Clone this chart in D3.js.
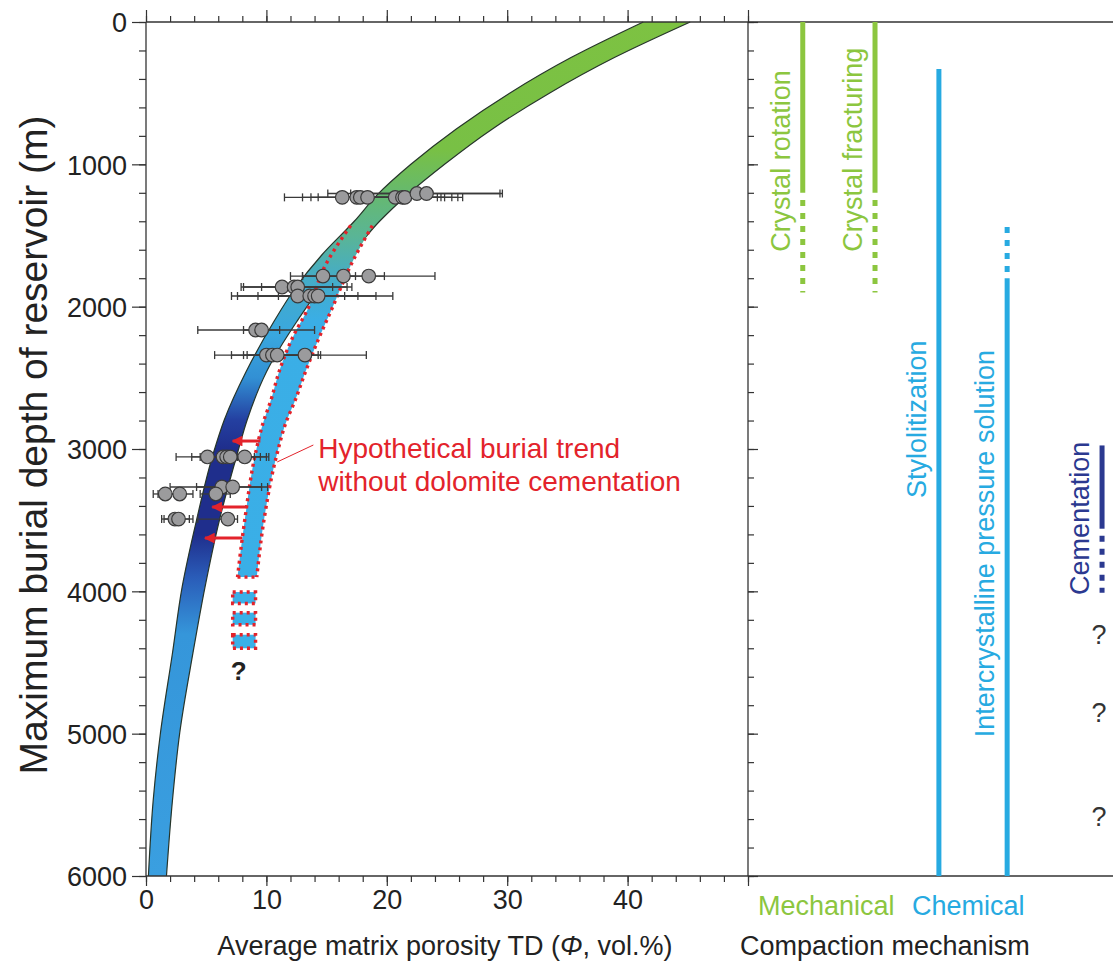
<!DOCTYPE html>
<html>
<head>
<meta charset="utf-8">
<script src="https://cdn.jsdelivr.net/npm/d3@7"></script>
<style>
body { margin: 0; background: #fff; }
svg { font-family: "Liberation Sans", Arial, Helvetica, sans-serif; }
</style>
</head>
<body>
<svg id="chart" width="1113" height="968"></svg>
<script>
// porosity-depth envelope (depth in m, porosity in vol.%)
const bandDepth = [0, 250, 500, 750, 1000, 1215, 1400, 1637, 1869, 2108, 2459, 2796, 3028, 3499, 3970, 4433, 4995, 5466, 6000];
const bandLow   = [41.3, 35.3, 30.2, 25.8, 22.0, 19.2, 17.3, 14.6, 12.4, 10.6, 8.3, 6.5, 5.6, 4.2, 3.0, 2.2, 1.2, 0.6, 0.2];
const bandHigh  = [45.2, 38.9, 33.5, 28.8, 24.8, 21.7, 19.4, 17.0, 14.5, 12.5, 10.0, 8.4, 7.6, 6.1, 4.9, 3.9, 2.8, 2.2, 1.7];

// hypothetical trend without dolomite cementation
const hypDepth = [1430, 1693, 2023, 2213, 2445, 2677, 2796, 3028, 3499, 3900];
const hypLow   = [17.0, 15.0, 13.4, 12.2, 11.1, 10.3, 9.8, 9.1, 8.2, 7.6];
const hypHigh  = [18.8, 17.1, 15.4, 14.4, 13.3, 12.3, 11.7, 10.9, 9.8, 9.2];
const hypBoxTop    = [4005, 4150, 4305];
const hypBoxBottom = [4085, 4235, 4400];
const hypBoxPhi    = [7.2, 9.1];

// arrows from hypothetical to observed trend
const arrowDepth = [2944, 3408, 3626];
const arrowFrom  = [9.5, 8.4, 8.0];
const arrowTo    = [7.2, 5.5, 4.9];

// measured samples
const ptDepth = [1232, 1232, 1232, 1232, 1232, 1232, 1232, 1205, 1205,
                 1785, 1785, 1785, 1862, 1862, 1862, 1925, 1925, 1925, 1925,
                 2164, 2164, 2340, 2340, 2340, 2340,
                 3056, 3056, 3056, 3056, 3056, 3267, 3267, 3316, 3316, 3316, 3492, 3492, 3492];
const ptPhi   = [16.3, 17.5, 17.8, 18.4, 20.7, 21.3, 21.5, 22.5, 23.3,
                 14.7, 16.4, 18.5, 11.3, 12.3, 12.6, 12.6, 13.6, 14.0, 14.3,
                 9.1, 9.6, 10.0, 10.5, 10.9, 13.2,
                 5.1, 6.4, 6.7, 7.0, 8.2, 6.3, 7.2, 1.6, 2.8, 5.8, 2.4, 2.7, 6.8];
const ptMin   = [11.5, 13.0, 13.7, 14.3, 16.0, 16.5, 17.6, 15.1, 17.0,
                 12.0, 13.0, 13.0, 7.9, 8.1, 9.6, 7.1, 7.6, 9.3, 11.0,
                 4.3, 8.1, 5.7, 7.1, 8.1, 8.4,
                 2.5, 3.8, 4.5, 5.0, 6.0, 2.0, 4.2, 0.6, 1.0, 4.5, 1.3, 1.5, 4.3];
const ptMax   = [22.0, 24.2, 24.8, 25.4, 25.9, 26.3, 24.5, 29.4, 29.6,
                 17.4, 19.8, 24.0, 16.7, 17.1, 15.5, 17.6, 19.1, 20.5, 16.5,
                 11.1, 14.0, 14.3, 14.5, 13.6, 18.3,
                 7.6, 9.0, 9.5, 10.2, 10.0, 10.1, 9.6, 3.0, 3.9, 7.0, 3.9, 3.6, 7.6];

// compaction mechanisms (right panel)
const mechNames    = ['Crystal rotation', 'Crystal fracturing', 'Stylolitization', 'Intercrystalline pressure solution', 'Cementation'];
const mechColor    = ['#8cc63f', '#8cc63f', '#27aae1', '#27aae1', '#2b3990'];
const mechSlot     = [1.5, 3.48, 5.23, 7.1, 9.7];
const mechSolid    = [[0, 1200], [0, 1200], [330, 6000], [1800, 6000], [2975, 3560]];
const mechDotted   = [[1250, 1900], [1250, 1900], null, [1440, 1790], [3610, 4010]];
const mechLabelAt  = [1615, 1615, 3345, 5025, 4025];
const unknownDepth = [4300, 4850, 5580];

const xTicks = [0, 10, 20, 30, 40, 50];
const yTicks = [0, 1000, 2000, 3000, 4000, 5000, 6000];

const FONT = '"Liberation Sans", Arial, Helvetica, sans-serif';
const svg = d3.select('#chart');

const x = d3.scaleLinear().domain([0, 50]).range([146, 748]);
const y = d3.scaleLinear().domain([0, 6000]).range([22, 876]);
const xr = d3.scaleLinear().domain([0, 10]).range([748, 1113]);

// gradients
const defs = svg.append('defs');
function gradient(id, stops) {
	let g = defs.append('linearGradient').attr('id', id)
		.attr('gradientUnits', 'userSpaceOnUse')
		.attr('x1', 0).attr('x2', 0)
		.attr('y1', y(0)).attr('y2', y(6000));
	stops.forEach((s) => {
		g.append('stop').attr('offset', s[0] / 6000).attr('stop-color', s[1]);
	});
}
gradient('bandGrad', [[0, '#7dc242'], [900, '#78c045'], [1200, '#66b96e'], [1500, '#5ab595'], [1800, '#45acc8'],
	[2200, '#39a7df'], [2500, '#3290d4'], [2800, '#243fa0'], [3000, '#1f2e8c'], [3600, '#1f2e8c'],
	[3900, '#2a5cb8'], [4300, '#3596da'], [6000, '#3a9fe0']]);
gradient('hypGrad', [[0, '#7dc242'], [1200, '#66b96e'], [1500, '#5ab595'], [1800, '#45acc8'], [2100, '#3aaee6'], [6000, '#3ab0e8']]);

defs.append('marker').attr('id', 'arrow')
	.attr('viewBox', '0 0 10 10').attr('refX', 9).attr('refY', 5)
	.attr('markerWidth', 3.8).attr('markerHeight', 3.6).attr('orient', 'auto')
	.attr('markerUnits', 'strokeWidth')
	.append('path').attr('d', 'M0,0L10,5L0,10Z').attr('fill', '#e3232b');

// observed band
const band = bandDepth.map((d, i) => ({depth: d, lo: bandLow[i], hi: bandHigh[i]}));
svg.append('path').datum(band)
	.attr('d', d3.area().y((d) => y(d.depth)).x0((d) => x(d.lo)).x1((d) => x(d.hi)).curve(d3.curveMonotoneY))
	.attr('fill', 'url(#bandGrad)');
['lo', 'hi'].forEach((k) => {
	svg.append('path').datum(band)
		.attr('d', d3.line().y((d) => y(d.depth)).x((d) => x(d[k])).curve(d3.curveMonotoneY))
		.attr('fill', 'none').attr('stroke', '#26352a').attr('stroke-width', 1.2);
});

// hypothetical band
const hyp = hypDepth.map((d, i) => ({depth: d, lo: hypLow[i], hi: hypHigh[i]}));
svg.append('path').datum(hyp)
	.attr('d', d3.area().y((d) => y(d.depth)).x0((d) => x(d.lo)).x1((d) => x(d.hi)).curve(d3.curveMonotoneY))
	.attr('fill', 'url(#hypGrad)');
const redDot = (sel) => sel.attr('fill', 'none').attr('stroke', '#e3232b')
	.attr('stroke-width', 3.4).attr('stroke-dasharray', '3,4');
['lo', 'hi'].forEach((k) => {
	svg.append('path').datum(hyp)
		.attr('d', d3.line().y((d) => y(d.depth)).x((d) => x(d[k])).curve(d3.curveMonotoneY))
		.call(redDot);
});
const last = hyp[hyp.length - 1];
svg.append('line')
	.attr('x1', x(last.lo)).attr('x2', x(last.hi))
	.attr('y1', y(last.depth)).attr('y2', y(last.depth))
	.call(redDot);
hypBoxTop.forEach((t, i) => {
	svg.append('rect')
		.attr('x', x(hypBoxPhi[0])).attr('width', x(hypBoxPhi[1]) - x(hypBoxPhi[0]))
		.attr('y', y(t)).attr('height', y(hypBoxBottom[i]) - y(t))
		.call(redDot).attr('fill', '#3ab0e8');
});

// arrows
arrowDepth.forEach((d, i) => {
	svg.append('line')
		.attr('x1', x(arrowFrom[i])).attr('x2', x(arrowTo[i]))
		.attr('y1', y(d)).attr('y2', y(d))
		.attr('stroke', '#e3232b').attr('stroke-width', 3)
		.attr('marker-end', 'url(#arrow)');
});

// samples
const pts = ptDepth.map((d, i) => ({depth: d, phi: ptPhi[i], min: ptMin[i], max: ptMax[i]}));
const gBars = svg.append('g').attr('stroke', '#3a3a3a').attr('stroke-width', 1.3);
pts.forEach((p) => {
	gBars.append('line').attr('x1', x(p.min)).attr('x2', x(p.max)).attr('y1', y(p.depth)).attr('y2', y(p.depth));
	[p.min, p.max].forEach((v) => {
		gBars.append('line').attr('x1', x(v)).attr('x2', x(v)).attr('y1', y(p.depth) - 4).attr('y2', y(p.depth) + 4);
	});
});
svg.append('g').selectAll('circle').data(pts).enter().append('circle')
	.attr('cx', (d) => x(d.phi)).attr('cy', (d) => y(d.depth)).attr('r', 6.8)
	.attr('fill', '#9b9b9d').attr('stroke', '#3a3a3a').attr('stroke-width', 1.2);

// annotation
svg.append('line')
	.attr('x1', x(13.9)).attr('y1', y(2972)).attr('x2', x(10.9)).attr('y2', y(3091))
	.attr('stroke', '#e3232b').attr('stroke-width', 1);
const anno = svg.append('text').attr('fill', '#e3232b').attr('font-size', 28);
anno.append('tspan').attr('x', x(14.3)).attr('y', y(3065)).text('Hypothetical burial trend');
anno.append('tspan').attr('x', x(14.3)).attr('y', y(3295)).text('without dolomite cementation');
svg.append('text').attr('x', x(7.7)).attr('y', y(4620)).attr('text-anchor', 'middle')
	.attr('font-size', 26).attr('font-weight', 'bold').attr('fill', '#222').text('?');

// axes
function axis(gen, tx, ty, values, size, labels) {
	let g = svg.append('g').attr('transform', 'translate(' + tx + ',' + ty + ')')
		.call(gen.tickValues(values).tickSize(size).tickPadding(labels ? 5 : 0)
			.tickFormat(labels || (() => '')));
	g.select('.domain').remove();
	g.attr('font-family', FONT).attr('font-size', 27);
	g.selectAll('line').attr('stroke', '#333').attr('stroke-width', 1.2);
	g.selectAll('text').attr('fill', '#222');
	return g;
}
const xMinor = d3.range(0, 50.1, 2);
const yMinor = d3.range(0, 6001, 200);
axis(d3.axisBottom(x), 0, y(6000), xTicks, 10, (d) => d < 50 ? d : '').selectAll('text').attr('dy', '0.68em');
axis(d3.axisBottom(x), 0, y(6000), xMinor, 6);
axis(d3.axisTop(x), 0, y(0), xTicks, 12);
axis(d3.axisTop(x), 0, y(0), xMinor, 6);
axis(d3.axisLeft(y), x(0), 0, yTicks, 14, (d) => d).selectAll('text').attr('dy', '0.36em');
axis(d3.axisLeft(y), x(0), 0, yMinor, 7);
axis(d3.axisRight(y), x(50), 0, yTicks, 10);
axis(d3.axisRight(y), x(50), 0, yMinor, 6);

// frame
const frame = svg.append('g').attr('stroke', '#333').attr('stroke-width', 1.3);
frame.append('line').attr('x1', x(0)).attr('x2', 1113).attr('y1', y(0)).attr('y2', y(0));
frame.append('line').attr('x1', x(0)).attr('x2', 1113).attr('y1', y(6000)).attr('y2', y(6000));
frame.append('line').attr('x1', x(0)).attr('x2', x(0)).attr('y1', y(0)).attr('y2', y(6000));
frame.append('line').attr('x1', x(50)).attr('x2', x(50)).attr('y1', y(0)).attr('y2', y(6000));

// compaction mechanisms
mechNames.forEach((name, i) => {
	let cx = xr(mechSlot[i]);
	svg.append('line').attr('x1', cx).attr('x2', cx)
		.attr('y1', y(mechSolid[i][0])).attr('y2', y(mechSolid[i][1]))
		.attr('stroke', mechColor[i]).attr('stroke-width', 5);
	if (mechDotted[i]) {
		svg.append('line').attr('x1', cx).attr('x2', cx)
			.attr('y1', y(mechDotted[i][0])).attr('y2', y(mechDotted[i][1]))
			.attr('stroke', mechColor[i]).attr('stroke-width', 5).attr('stroke-dasharray', '6,7');
	}
	svg.append('text')
		.attr('transform', 'translate(' + (cx - 13) + ',' + y(mechLabelAt[i]) + ') rotate(-90)')
		.attr('font-size', 27).attr('fill', mechColor[i]).text(name);
});
unknownDepth.forEach((d) => {
	svg.append('text').attr('x', xr(mechSlot[4]) - 3).attr('y', y(d) + 10)
		.attr('text-anchor', 'middle').attr('font-size', 27).attr('fill', '#333').text('?');
});

// titles
svg.append('text').attr('transform', 'translate(47,445) rotate(-90)')
	.attr('text-anchor', 'middle').attr('font-size', 39).attr('fill', '#222')
	.text('Maximum burial depth of reservoir (m)');
const xt = svg.append('text').attr('x', 445).attr('y', 955).attr('text-anchor', 'middle')
	.attr('font-size', 27).attr('fill', '#222');
xt.append('tspan').text('Average matrix porosity TD (');
xt.append('tspan').attr('font-style', 'italic').text('Φ');
xt.append('tspan').text(', vol.%)');
svg.append('text').attr('x', 758).attr('y', 915).attr('font-size', 27).attr('fill', '#8cc63f').text('Mechanical');
svg.append('text').attr('x', 912).attr('y', 915).attr('font-size', 27).attr('fill', '#27aae1').text('Chemical');
svg.append('text').attr('x', 740).attr('y', 955).attr('font-size', 27).attr('fill', '#222').text('Compaction mechanism');
</script>
</body>
</html>
